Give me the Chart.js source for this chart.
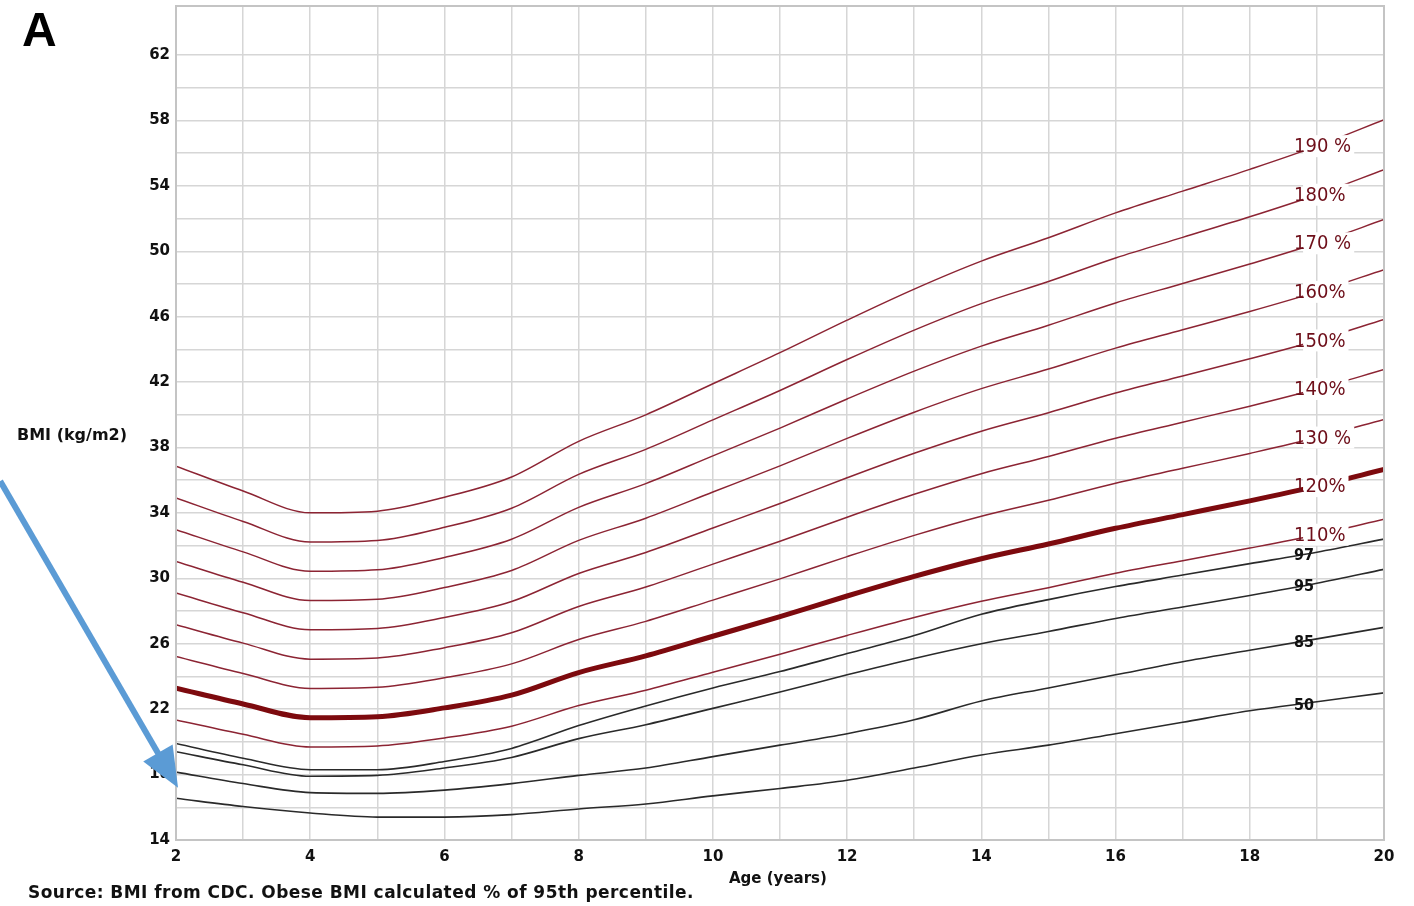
<!DOCTYPE html>
<html>
<head>
<meta charset="utf-8">
<script src="https://cdn.jsdelivr.net/npm/chart.js@4/dist/chart.umd.min.js"></script>
<style>
  body { margin: 0; background: #fff; }
  #wrap { position: relative; width: 1414px; height: 906px; overflow: hidden; }
  #chart { position: absolute; left: 0; top: 0; }
  .txt { position: absolute; white-space: nowrap; color: #111; font-family: 'DejaVu Sans', sans-serif; font-weight: bold; }
</style>
</head>
<body>
<div id="wrap">
  <canvas id="chart" width="1414" height="906"></canvas>
  <div class="txt" style="left:22px; top:2px; font-family:'Liberation Sans', Arial, sans-serif; font-size:48px; color:#000;">A</div>
  <div class="txt" style="left:17px; top:425px; font-size:16px;">BMI (kg/m2)</div>
  <div class="txt" style="left:729px; top:869px; font-size:15px;">Age (years)</div>
  <div class="txt" style="left:28px; top:882px; font-size:17px; letter-spacing:0.45px;">Source: BMI from CDC. Obese BMI calculated % of 95th percentile.</div>
</div>
<script>
// BMI-for-age reference curves (ages 2..20)
const ages = [2, 3, 4, 5, 6, 7, 8, 9, 10, 11, 12, 13, 14, 15, 16, 17, 18, 19, 20];

const p50 = [16.55, 16.05, 15.65, 15.4, 15.4, 15.55, 15.9, 16.2, 16.7, 17.15, 17.65, 18.4, 19.2, 19.8, 20.5, 21.2, 21.9, 22.45, 23.0];
const p85 = [18.15, 17.45, 16.9, 16.85, 17.05, 17.45, 17.95, 18.4, 19.1, 19.8, 20.5, 21.35, 22.5, 23.3, 24.1, 24.9, 25.6, 26.3, 27.0];
const p95 = [19.4, 18.6, 17.9, 17.95, 18.4, 19.05, 20.2, 21.05, 22.05, 23.05, 24.1, 25.1, 26.0, 26.75, 27.55, 28.25, 28.95, 29.7, 30.55];
const p97 = [19.9, 19.0, 18.3, 18.3, 18.8, 19.6, 21.0, 22.2, 23.3, 24.3, 25.4, 26.5, 27.8, 28.7, 29.5, 30.2, 30.9, 31.6, 32.4];

const pct110 = [21.34, 20.46, 19.69, 19.75, 20.24, 20.96, 22.22, 23.16, 24.26, 25.36, 26.51, 27.61, 28.6, 29.43, 30.31, 31.08, 31.85, 32.67, 33.61];
const pct120 = [23.28, 22.32, 21.48, 21.54, 22.08, 22.86, 24.24, 25.26, 26.46, 27.66, 28.92, 30.12, 31.2, 32.1, 33.06, 33.9, 34.74, 35.64, 36.66];
const pct130 = [25.22, 24.18, 23.27, 23.34, 23.92, 24.77, 26.26, 27.37, 28.67, 29.97, 31.33, 32.63, 33.8, 34.78, 35.82, 36.73, 37.64, 38.61, 39.72];
const pct140 = [27.16, 26.04, 25.06, 25.13, 25.76, 26.67, 28.28, 29.47, 30.87, 32.27, 33.74, 35.14, 36.4, 37.45, 38.57, 39.55, 40.53, 41.58, 42.77];
const pct150 = [29.1, 27.9, 26.85, 26.93, 27.6, 28.58, 30.3, 31.58, 33.08, 34.58, 36.15, 37.65, 39.0, 40.13, 41.33, 42.38, 43.43, 44.55, 45.83];
const pct160 = [31.04, 29.76, 28.64, 28.72, 29.44, 30.48, 32.32, 33.68, 35.28, 36.88, 38.56, 40.16, 41.6, 42.8, 44.08, 45.2, 46.32, 47.52, 48.88];
const pct170 = [32.98, 31.62, 30.43, 30.52, 31.28, 32.39, 34.34, 35.79, 37.49, 39.19, 40.97, 42.67, 44.2, 45.48, 46.84, 48.03, 49.22, 50.49, 51.94];
const pct180 = [34.92, 33.48, 32.22, 32.31, 33.12, 34.29, 36.36, 37.89, 39.69, 41.49, 43.38, 45.18, 46.8, 48.15, 49.59, 50.85, 52.11, 53.46, 54.99];
const pct190 = [36.86, 35.34, 34.01, 34.11, 34.96, 36.2, 38.38, 40.0, 41.9, 43.8, 45.79, 47.69, 49.4, 50.83, 52.35, 53.68, 55.01, 56.43, 58.05];

const percentileLabels = ['50', '85', '95', '97'];
const obeseLabels = ['110%', '120%', '130 %', '140%', '150%', '160%', '170 %', '180%', '190 %'];

// y axis: labels every 4 from 14 to 62, grid every 2
const yMin = 14, yMax = 65, yLabelStep = 4;
const xMin = 2, xMax = 20;

// blue arrow annotation (data coordinates)
const arrowFrom = { age: -0.62, bmi: 35.95 };
const arrowTo = { age: 2.03, bmi: 17.2 };

const RED = '#8c2433';
const BLACK = '#2a2a2a';

function toPoints(values) {
    return ages.map((a, i) => ({ x: a, y: values[i] }));
}

const blackSeries = [p50, p85, p95, p97];
const redSeries = [pct110, pct120, pct130, pct140, pct150, pct160, pct170, pct180, pct190];

const datasets = [];
blackSeries.forEach((vals, i) => {
    datasets.push({ label: percentileLabels[i], data: toPoints(vals), borderColor: BLACK, borderWidth: 1.6, kind: 'black' });
});
redSeries.forEach((vals, i) => {
    const thick = obeseLabels[i] === '120%';
    datasets.push({
        label: obeseLabels[i], data: toPoints(vals),
        borderColor: thick ? '#7d0a0e' : RED,
        borderWidth: thick ? 5 : 1.5,
        kind: 'red',
        order: thick ? -1 : 0
    });
});

// frame + curve labels + arrow
const decorPlugin = {
    id: 'decor',
    afterDatasetsDraw(chart) {
        const { ctx, chartArea, scales } = chart;
        ctx.save();
        ctx.strokeStyle = '#c4c4c4';
        ctx.lineWidth = 2;
        ctx.strokeRect(chartArea.left, chartArea.top, chartArea.right - chartArea.left, chartArea.bottom - chartArea.top);

        const labelX = scales.x.getPixelForValue(18.66);
        ctx.textBaseline = 'middle';
        chart.data.datasets.forEach(ds => {
            const y = scales.y.getPixelForValue(ds.data[17].y);
            if (ds.kind === 'red') {
                ctx.font = '20px "Liberation Sans Narrow", "DejaVu Sans Condensed", sans-serif';
                const w = ctx.measureText(ds.label).width;
                ctx.fillStyle = '#fff';
                ctx.fillRect(labelX + 9, y - 11, w - 6, 22);
                ctx.fillStyle = '#6e0f1a';
                ctx.fillText(ds.label, labelX, y + 1);
            } else {
                ctx.font = 'bold 16px "Liberation Sans Narrow", "DejaVu Sans Condensed", sans-serif';
                ctx.fillStyle = '#111';
                ctx.fillText(ds.label, labelX, y + 4);
            }
        });
        ctx.restore();
    },
    afterDraw(chart) {
        const { ctx, scales } = chart;
        const x0 = scales.x.getPixelForValue(arrowFrom.age), y0 = scales.y.getPixelForValue(arrowFrom.bmi);
        const x1 = scales.x.getPixelForValue(arrowTo.age), y1 = scales.y.getPixelForValue(arrowTo.bmi);
        const len = Math.hypot(x1 - x0, y1 - y0);
        const ux = (x1 - x0) / len, uy = (y1 - y0) / len;
        const headLen = 40, headHalf = 17;
        const bx = x1 - ux * headLen, by = y1 - uy * headLen;
        ctx.save();
        ctx.strokeStyle = '#5b9bd5';
        ctx.fillStyle = '#5b9bd5';
        ctx.lineWidth = 6;
        ctx.beginPath();
        ctx.moveTo(x0, y0);
        ctx.lineTo(bx + ux * 2, by + uy * 2);
        ctx.stroke();
        ctx.beginPath();
        ctx.moveTo(x1, y1);
        ctx.lineTo(bx - uy * headHalf, by + ux * headHalf);
        ctx.lineTo(bx + uy * headHalf, by - ux * headHalf);
        ctx.closePath();
        ctx.fill();
        ctx.restore();
    }
};

const tickFont = { family: 'DejaVu Sans', weight: 'bold', size: 15 };

new Chart(document.getElementById('chart').getContext('2d'), {
    type: 'line',
    data: { datasets },
    options: {
        responsive: false,
        animation: false,
        devicePixelRatio: 1,
        layout: { padding: { top: 6, right: 30, left: 0, bottom: 0 } },
        plugins: { legend: { display: false }, tooltip: { enabled: false } },
        elements: {
            point: { radius: 0 },
            line: { cubicInterpolationMode: 'monotone', borderCapStyle: 'round' }
        },
        scales: {
            x: {
                type: 'linear', min: xMin, max: xMax,
                afterFit: s => { s.height = 66; s.paddingLeft = 0; s.paddingRight = 0; },
                grid: { color: '#d6d6d6', lineWidth: 1.5, drawTicks: false },
                border: { display: false },
                ticks: {
                    stepSize: 1, autoSkip: false, maxRotation: 0, padding: 8,
                    color: '#111', font: tickFont,
                    callback: v => (v % 2 === 0 ? v : '')
                }
            },
            y: {
                type: 'linear', min: yMin, max: yMax,
                afterFit: s => { s.width = 176; s.paddingTop = 0; s.paddingBottom = 0; },
                grid: { color: '#d6d6d6', lineWidth: 1.5, drawTicks: false },
                border: { display: false },
                ticks: {
                    stepSize: 2, autoSkip: false, padding: 6,
                    color: '#111', font: tickFont,
                    callback: v => ((v - yMin) % yLabelStep === 0 && v <= 62 ? v : '')
                }
            }
        }
    },
    plugins: [decorPlugin]
});
</script>
</body>
</html>
